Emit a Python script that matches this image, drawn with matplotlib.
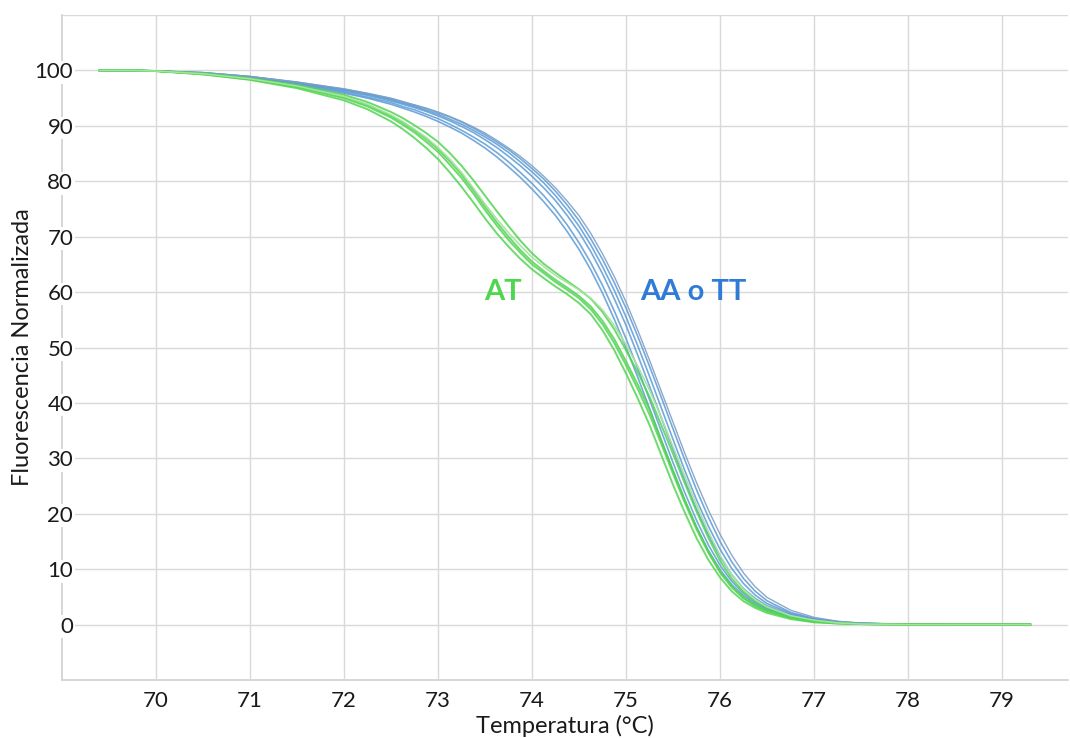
import matplotlib
matplotlib.use("Agg")
import matplotlib.pyplot as plt

# Temperature grid (°C)
temps = [69.4, 69.75, 70, 70.5, 71, 71.5, 72, 72.25, 72.5,
         72.625, 72.75, 72.875, 73, 73.125, 73.25, 73.375, 73.5,
         73.625, 73.75, 73.875, 74, 74.125, 74.25, 74.375, 74.5,
         74.625, 74.75, 74.875, 75, 75.125, 75.25, 75.375, 75.5,
         75.625, 75.75, 75.875, 76, 76.125, 76.25, 76.375, 76.5,
         76.75, 77, 77.25, 77.5, 78, 78.5, 79.3]

# AT curves (green)
at_1 = [100, 100, 99.9, 99.4, 98.5, 97.2, 95.2, 93.8, 91.8,
        90.6, 89.2, 87.6, 85.8, 83.6, 81.2, 78.4, 75.4, 72.6, 70.0, 67.6, 65.5, 63.8, 62.2, 60.8, 59.3,
        57.4, 54.8, 51.5, 47.5, 43.3, 38.8, 33.2, 27.8, 22.5, 17.5, 13.2, 9.6, 6.9, 4.9, 3.5, 2.5,
        1.3, 0.6, 0.3, 0.1, 0, 0, 0]
at_2 = [100, 100, 99.9, 99.3, 98.3, 96.8, 94.6, 93.0, 90.8,
        89.4, 87.8, 86.0, 84.0, 81.6, 79.0, 76.2, 73.3, 70.6, 68.2, 66.0, 64.1, 62.5, 61.0, 59.6, 58.0,
        56.0, 53.1, 49.5, 45.3, 40.8, 36.0, 30.6, 25.2, 20.2, 15.6, 11.7, 8.5, 6.0, 4.2, 3.0, 2.1,
        1.0, 0.4, 0.2, 0.1, 0, 0, 0]
at_3 = [100, 100, 99.9, 99.5, 98.6, 97.4, 95.6, 94.3, 92.5,
        91.4, 90.1, 88.7, 87.1, 85.1, 82.8, 80.2, 77.4, 74.6, 71.9, 69.3, 67.0, 65.1, 63.5, 62.0, 60.5,
        58.8, 56.4, 53.3, 49.5, 45.5, 41.1, 36.0, 30.8, 25.5, 20.4, 15.7, 11.5, 8.3, 5.9, 4.2, 3.0,
        1.5, 0.7, 0.3, 0.1, 0, 0, 0]
at_4 = [100, 100, 99.9, 99.4, 98.5, 97.2, 95.3, 93.9, 92.0,
        90.8, 89.4, 87.9, 86.1, 84.0, 81.6, 78.8, 75.9, 73.2, 70.7, 68.4, 66.3, 64.6, 63.0, 61.7, 60.4,
        58.9, 56.8, 54.0, 50.5, 46.6, 42.3, 37.4, 32.1, 26.8, 21.6, 16.8, 12.5, 9.0, 6.4, 4.5, 3.2,
        1.6, 0.8, 0.3, 0.1, 0, 0, 0]
at_5 = [100, 100, 99.9, 99.3, 98.4, 97.0, 95.0, 93.5, 91.5,
        90.2, 88.8, 87.1, 85.3, 83.0, 80.6, 77.8, 74.8, 72.0, 69.4, 67.1, 65.0, 63.4, 61.8, 60.4, 58.9,
        56.9, 54.2, 50.8, 46.8, 42.5, 37.9, 32.6, 27.2, 22.0, 17.2, 13.0, 9.4, 6.7, 4.7, 3.3, 2.4,
        1.2, 0.5, 0.2, 0.1, 0, 0, 0]

# AA o TT curves (blue)
hom_1 = [100, 100, 99.9, 99.5, 98.8, 97.7, 96.3, 95.5, 94.5,
         93.9, 93.3, 92.6, 91.8, 90.9, 89.9, 88.8, 87.5, 86.1, 84.5, 82.8, 80.9, 78.8, 76.5, 73.8, 70.8,
         67.3, 63.3, 58.8, 54.0, 48.6, 43.0, 37.3, 31.6, 26.0, 20.8, 16.2, 12.2, 9.0, 6.5, 4.7, 3.4,
         1.8, 0.9, 0.45, 0.2, 0.05, 0, 0]
hom_2 = [100, 100, 99.9, 99.4, 98.6, 97.4, 95.9, 95.0, 93.9,
         93.2, 92.5, 91.7, 90.8, 89.8, 88.7, 87.4, 86.0, 84.4, 82.6, 80.7, 78.6, 76.3, 73.8, 70.9, 67.7,
         64.0, 59.8, 55.1, 50.0, 44.6, 39.0, 33.3, 27.7, 22.4, 17.6, 13.4, 9.9, 7.2, 5.2, 3.7, 2.7,
         1.4, 0.7, 0.35, 0.15, 0.05, 0, 0]
hom_3 = [100, 100, 99.9, 99.6, 98.9, 97.9, 96.6, 95.8, 94.9,
         94.3, 93.7, 93.1, 92.4, 91.6, 90.7, 89.6, 88.4, 87.1, 85.7, 84.1, 82.3, 80.4, 78.2, 75.7, 72.9,
         69.6, 65.9, 61.7, 57.1, 52.0, 46.6, 41.0, 35.3, 29.7, 24.3, 19.4, 15.0, 11.3, 8.3, 6.0, 4.3,
         2.2, 1.1, 0.55, 0.25, 0.05, 0, 0]
hom_4 = [100, 100, 99.9, 99.5, 98.7, 97.6, 96.1, 95.2, 94.2,
         93.5, 92.9, 92.1, 91.3, 90.3, 89.2, 88.0, 86.7, 85.2, 83.5, 81.6, 79.6, 77.4, 74.9, 72.1, 68.9,
         65.3, 61.2, 56.6, 51.6, 46.2, 40.6, 34.9, 29.2, 23.8, 18.8, 14.4, 10.7, 7.8, 5.6, 4.0, 2.9,
         1.5, 0.75, 0.4, 0.2, 0.05, 0, 0]
hom_5 = [100, 100, 99.9, 99.6, 98.9, 97.8, 96.5, 95.7, 94.7,
         94.1, 93.5, 92.8, 92.1, 91.2, 90.3, 89.2, 88.0, 86.7, 85.2, 83.5, 81.7, 79.7, 77.4, 74.8, 71.9,
         68.5, 64.6, 60.3, 55.5, 50.3, 44.8, 39.1, 33.4, 27.8, 22.5, 17.8, 13.6, 10.1, 7.4, 5.3, 3.8,
         2.0, 1.0, 0.5, 0.2, 0.05, 0, 0]
hom_6 = [100, 100, 99.9, 99.6, 98.9, 97.9, 96.7, 95.9, 95.0,
         94.4, 93.8, 93.2, 92.5, 91.7, 90.8, 89.8, 88.7, 87.4, 86.0, 84.5, 82.8, 80.9, 78.8, 76.4, 73.8,
         70.6, 66.9, 62.8, 58.2, 53.1, 47.7, 42.1, 36.5, 30.9, 25.6, 20.7, 16.3, 12.5, 9.3, 6.8, 4.9,
         2.6, 1.3, 0.6, 0.25, 0.05, 0, 0]

x_ticks = [70, 71, 72, 73, 74, 75, 76, 77, 78, 79]
y_ticks = [0, 10, 20, 30, 40, 50, 60, 70, 80, 90, 100]

plt.rcParams['font.family'] = ['Lato', 'DejaVu Sans']

fig = plt.figure(figsize=(10.7, 7.38), dpi=100)
ax = fig.add_axes([0.058, 0.0786, 0.940, 0.901])

blue = "#5b9bd5"
green = "#52d452"

for c in [hom_1, hom_2, hom_3, hom_4, hom_5]:
    ax.plot(temps, c, color=blue, lw=1.2, alpha=0.85, zorder=3,
            solid_joinstyle='round')
ax.plot(temps, hom_6, color="#7f9fc4", lw=1.0, alpha=0.9, zorder=3,
        solid_joinstyle='round')

for c in [at_1, at_2, at_3, at_5]:
    ax.plot(temps, c, color=green, lw=1.4, alpha=0.85, zorder=4,
            solid_joinstyle='round')
ax.plot(temps, at_4, color="#a6e3a0", lw=1.1, zorder=4, solid_joinstyle='round')

ax.text(73.69, 60, "AT", color="#4fd64f", fontsize=21, fontweight='bold',
        ha='center', va='center', zorder=5)
ax.text(75.71, 60, "AA o TT", color="#2f7bd6", fontsize=21, fontweight='bold',
        ha='center', va='center', zorder=5)

ax.set_xlim(69.0, 79.7)
ax.set_ylim(-10, 110)
ax.set_xticks(x_ticks)
ax.set_yticks(y_ticks)
ax.grid(True, color="#d9d9d9", lw=1.0, zorder=0)
ax.axhline(110, color="#d9d9d9", lw=1.0, zorder=0)
ax.set_axisbelow(True)

for s in ['top', 'right']:
    ax.spines[s].set_visible(False)
for s in ['left', 'bottom']:
    ax.spines[s].set_color("#d0d0d0")
    ax.spines[s].set_linewidth(1.2)
    ax.spines[s].set_zorder(0.3)

ax.tick_params(axis='both', length=0, labelsize=16, colors="#1a1a1a")
ax.tick_params(axis='x', pad=8)
ax.tick_params(axis='y', pad=-8)
for lab in ax.get_yticklabels():
    lab.set_bbox(dict(facecolor='white', edgecolor='none', pad=1))

ax.set_xlabel("Temperatura (°C)", fontsize=17, color="#1a1a1a")
ax.set_ylabel("Fluorescencia Normalizada", fontsize=17, color="#1a1a1a")
ax.xaxis.set_label_coords(0.5, -0.053)
ax.yaxis.set_label_coords(-0.029, 0.5)

fig.savefig("out.png", dpi=100)
